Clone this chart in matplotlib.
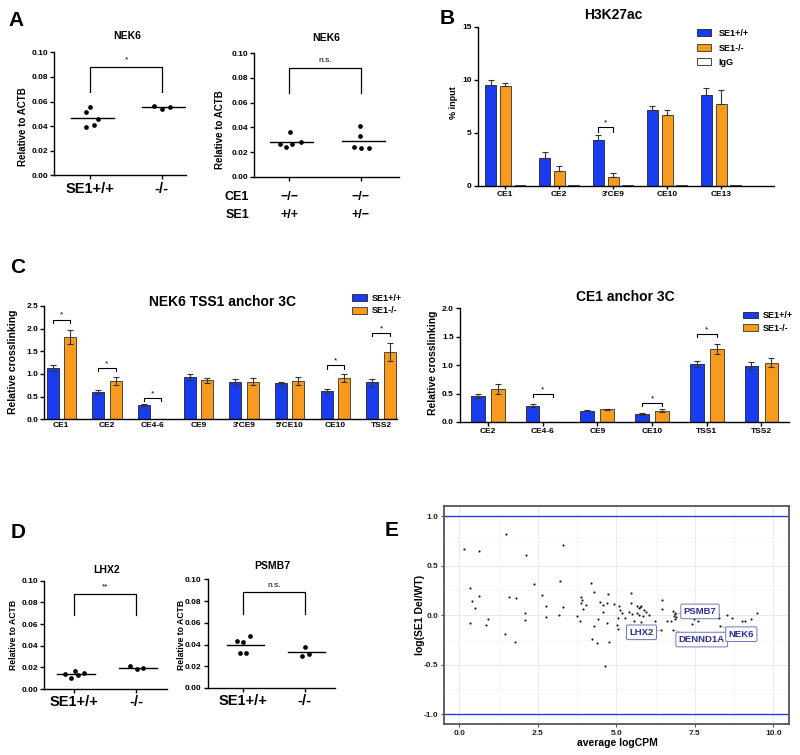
import numpy as np
import matplotlib.pyplot as plt
from matplotlib.transforms import blended_transform_factory

plt.rcParams['font.family'] = ['Liberation Sans', 'DejaVu Sans']
plt.rcParams['font.weight'] = 'bold'
plt.rcParams['axes.linewidth'] = 1.0

BLUE = '#1a3cf0'
ORANGE = '#f79a1e'

# ---- A: NEK6 qPCR ----
a1_groups = ['SE1+/+', '-/-']
a1_wt = [0.0515, 0.0553, 0.0458, 0.0396, 0.0407]
a1_ko = [0.0564, 0.0542, 0.0556]
a2_ce1 = ['\u2212/\u2212', '\u2212/\u2212']
a2_se1 = ['+/+', '+/\u2212']
a2_wt = [0.0262, 0.0241, 0.0359, 0.0265, 0.0278]
a2_het = [0.0411, 0.0327, 0.0241, 0.0230, 0.0230]

# ---- B: H3K27ac ChIP ----
b_sites = ['CE1', 'CE2', "3'CE9", 'CE10', 'CE13']
b_wt = [9.53, 2.64, 4.34, 7.11, 8.55]
b_wt_err = [0.41, 0.54, 0.41, 0.37, 0.66]
b_ko = [9.40, 1.42, 0.85, 6.70, 7.74]
b_ko_err = [0.29, 0.44, 0.31, 0.41, 1.25]
b_igg = [0.05, 0.05, 0.05, 0.05, 0.05]

# ---- C: 3C ----
c1_sites = ['CE1', 'CE2', 'CE4-6', 'CE9', "3'CE9", "5'CE10", 'CE10', 'TSS2']
c1_wt = [1.13, 0.60, 0.31, 0.93, 0.82, 0.79, 0.625, 0.82]
c1_wt_err = [0.06, 0.04, 0.02, 0.06, 0.06, 0.04, 0.04, 0.08]
c1_ko = [1.81, 0.85, 0.0, 0.86, 0.83, 0.84, 0.92, 1.49]
c1_ko_err = [0.15, 0.09, 0.0, 0.06, 0.08, 0.09, 0.09, 0.20]
c1_sig = [0, 1, 2, 6, 7]

c2_sites = ['CE2', 'CE4-6', 'CE9', 'CE10', 'TSS1', 'TSS2']
c2_wt = [0.46, 0.29, 0.20, 0.14, 1.02, 0.98]
c2_wt_err = [0.03, 0.02, 0.01, 0.01, 0.06, 0.07]
c2_ko = [0.58, 0.0, 0.22, 0.20, 1.29, 1.04]
c2_ko_err = [0.08, 0.0, 0.015, 0.025, 0.09, 0.08]
c2_sig = [1, 3, 4]

# ---- D: LHX2 / PSMB7 ----
d1_wt = [0.0135, 0.0166, 0.0105, 0.0126, 0.0148]
d1_ko = [0.0212, 0.0185, 0.0194]
d2_wt = [0.0436, 0.0423, 0.0475, 0.0325, 0.0325]
d2_ko = [0.0377, 0.0294, 0.0310]

# ---- E: MA plot ----
e_x = [0.15, 0.62, 1.48, 2.12, 3.31, 0.34, 0.39, 0.62, 0.51, 0.91, 0.34, 0.86, 1.57, 1.79,
       2.09, 2.09, 1.46, 1.76, 2.38, 2.62, 2.75, 2.77, 3.2, 3.31, 3.17, 3.74, 3.83, 3.87,
       3.9, 3.89, 3.93, 4.02, 4.18, 4.28, 4.22, 4.3, 4.4, 4.39, 4.47, 4.56, 4.59, 4.69,
       4.75, 4.71, 4.77, 4.65, 4.93, 5.07, 5.06, 5.03, 5.06, 5.13, 5.17, 5.28, 5.4, 5.48,
       5.48, 5.5, 5.55, 5.67, 5.66, 5.71, 5.71, 5.75, 5.79, 5.79, 5.84, 5.87, 5.93, 6.03,
       6.23, 6.47, 6.47, 6.61, 6.73, 6.79, 6.86, 6.84, 6.9, 6.86, 7.42, 7.46, 7.61, 8.23,
       8.28, 8.54, 8.7, 9.01, 9.1, 9.3, 9.48]
e_y = [0.67, 0.65, 0.82, 0.61, 0.71, 0.28, 0.145, 0.19, 0.077, -0.037, -0.074, -0.098, 0.18,
       0.17, 0.024, -0.047, -0.195, -0.27, 0.32, 0.2, 0.098, -0.017, 0.347, 0.084, 0.003,
       -0.007, -0.054, 0.18, 0.155, 0.12, 0.067, 0.104, 0.33, 0.232, -0.236, -0.114, -0.034,
       -0.286, 0.131, 0.03, 0.104, 0.121, 0.215, -0.081, -0.266, -0.515, 0.114, 0.091, -0.024,
       -0.101, -0.135, 0.05, 0.02, -0.024, 0.03, 0.222, 0.128, 0.017, -0.061, 0.094, 0.027,
       0.071, 0.0, 0.08, 0.09, -0.067, -0.007, 0.054, 0.03, 0.0, -0.057, 0.155, 0.067, -0.061,
       -0.054, 0.044, 0.02, -0.013, -0.017, -0.034, -0.091, -0.04, -0.061, 0.017, -0.027, 0.0,
       -0.03, -0.061, -0.061, -0.034, 0.027]
genes = ['LHX2', 'PSMB7', 'DENND1A', 'NEK6']
gene_x = [6.43, 6.88, 6.81, 8.31]
gene_y = [-0.152, 0.017, -0.148, -0.108]

W, H = 800, 755
fig = plt.figure(figsize=(W / 100, H / 100), dpi=100)


def box(l, t, r, b):
    return fig.add_axes([l / W, 1 - b / H, (r - l) / W, (b - t) / H])


def ftext(x, y, s, **kw):
    fig.text(x / W, 1 - y / H, s, ha=kw.pop('ha', 'center'), va=kw.pop('va', 'center'), **kw)


def prism(ax):
    for s in ['top', 'right']:
        ax.spines[s].set_visible(False)
    ax.tick_params(length=3, width=1, labelsize=6, pad=1.5)


def dots(ax, groups, jitters, star, xlim, ylab_x, ylab_y, ylab_size=7):
    for i, (vals, jit) in enumerate(zip(groups, jitters)):
        ax.plot(i + np.array(jit), vals, 'o', color='k', ms=3.4, mec='none')
        m = np.mean(vals)
        ax.plot([i - 0.27, i + 0.33], [m, m], color='k', lw=1)
    ax.plot([0, 0, 1, 1], [0.068, 0.088, 0.088, 0.068], color='k', lw=0.9)
    ax.text(0.5, 0.091, star, ha='center', va='bottom', fontsize=6, fontweight='normal')
    ax.set_ylim(0, 0.1)
    ax.set_xlim(*xlim)
    ax.set_yticks(np.arange(0, 0.101, 0.02))
    ax.set_yticklabels(['%.2f' % v for v in np.arange(0, 0.101, 0.02)])
    ax.set_xticks([0, 1])
    prism(ax)
    ftext(ylab_x, ylab_y, 'Relative to ACTB', rotation=90, fontsize=ylab_size)


# ---------- A ----------
ax = box(54, 52.3, 186, 175.3)
dots(ax, [a1_wt, a1_ko], [[-0.066, -0.005, 0.1, -0.061, 0.047], [-0.108, 0, 0.113]],
     '*', (-0.51, 1.34), 23, 127)
ax.set_xticklabels(a1_groups, fontsize=10.5)
ftext(127, 36, 'NEK6', fontsize=7.5)

ax = box(254, 53.3, 399, 176.7)
dots(ax, [a2_wt, a2_het], [[-0.126, -0.047, 0.005, 0.042, 0.163], [-0.01, -0.01, -0.098, 0, 0.107]],
     'n.s.', (-0.49, 1.53), 220, 130)
ax.set_xticklabels([])
tr = blended_transform_factory(ax.transData, ax.transAxes)
for i in range(2):
    ax.text(i, -0.165, a2_ce1[i], transform=tr, ha='center', va='center', fontsize=9)
    ax.text(i, -0.31, a2_se1[i], transform=tr, ha='center', va='center', fontsize=9)
ax.text(-0.117, -0.165, 'CE1', transform=ax.transAxes, ha='center', va='center', fontsize=9)
ax.text(-0.117, -0.31, 'SE1', transform=ax.transAxes, ha='center', va='center', fontsize=9)
ftext(326, 38, 'NEK6', fontsize=7.5)

# ---------- B ----------
ax = box(477.7, 26.7, 774, 185.7)
xb = np.arange(len(b_sites))
ek = dict(lw=0.8, capthick=0.8, ecolor='#333333')
ax.bar(xb - 0.272, b_wt, 0.2, color=BLUE, edgecolor='#222222', lw=0.6,
       yerr=[np.zeros(5), b_wt_err], capsize=2.2, error_kw=ek, label='SE1+/+')
ax.bar(xb, b_ko, 0.2, color=ORANGE, edgecolor='#333333', lw=0.6,
       yerr=[np.zeros(5), b_ko_err], capsize=2.2, error_kw=ek, label='SE1-/-')
ax.bar(xb + 0.272, b_igg, 0.2, color='white', edgecolor='#222222', lw=0.6, label='IgG')
ax.plot([2 - 0.272, 2 - 0.272, 2, 2], [5.1, 5.5, 5.5, 5.1], color='k', lw=0.8)
ax.text(2 - 0.136, 5.6, '*', ha='center', va='bottom', fontsize=6, fontweight='normal')
ax.set_ylim(0, 15)
ax.set_xlim(-0.51, 4.98)
ax.set_yticks([0, 5, 10, 15])
ax.set_xticks(xb)
ax.set_xticklabels(b_sites, fontsize=6.7)
prism(ax)
ax.tick_params(axis='x', length=2.5)
ax.legend(loc='upper left', bbox_to_anchor=(0.74, 0.985), frameon=False, fontsize=6.5,
          borderpad=0, borderaxespad=0, handlelength=1.5, handleheight=0.8,
          handletextpad=0.9, labelspacing=0.6)
ftext(453, 103, '% input', rotation=90, fontsize=6.5)
ftext(613, 15, 'H3K27ac', fontsize=10)


def bars3c(ax, sites, wt, wt_err, ko, ko_err, sig, sig_y, off, width, ylim):
    x = np.arange(len(sites))
    ek = dict(lw=0.8, capthick=0.8, ecolor='#333333')
    ax.bar(x - off, wt, width, color=BLUE, edgecolor='#222222', lw=0.6,
           yerr=wt_err, capsize=2.2, error_kw=ek, label='SE1+/+')
    ax.bar(x + off, ko, width, color=ORANGE, edgecolor='#333333', lw=0.6,
           yerr=ko_err, capsize=2.2, error_kw=ek, label='SE1-/-')
    tick = ylim * 0.028
    for i, y in zip(sig, sig_y):
        ax.plot([i - off, i - off, i + off, i + off], [y - tick, y, y, y - tick], color='k', lw=0.8)
        ax.text(i, y + tick * 0.3, '*', ha='center', va='bottom', fontsize=6, fontweight='normal')
    ax.set_ylim(0, ylim)
    ax.set_yticks(np.arange(0, ylim + 0.01, 0.5))
    ax.set_yticklabels(['%.1f' % v for v in np.arange(0, ylim + 0.01, 0.5)])
    ax.set_xticks(x)
    ax.set_xticklabels(sites, fontsize=6.7)
    prism(ax)


# ---------- C ----------
ax = box(44.3, 306, 396.7, 419.3)
bars3c(ax, c1_sites, c1_wt, c1_wt_err, c1_ko, c1_ko_err, c1_sig,
       [2.2, 1.125, 0.47, 1.19, 1.9], 0.19, 0.263, 2.5)
ax.set_xlim(-0.37, 7.34)
ax.tick_params(axis='x', length=0, pad=2)
ax.legend(loc='upper left', bbox_to_anchor=(0.873, 1.11), frameon=False, fontsize=6.5,
          borderpad=0, borderaxespad=0, handlelength=1.65, handleheight=0.8,
          handletextpad=0.6, labelspacing=0.42)
ftext(13, 362, 'Relative crosslinking', rotation=90, fontsize=7.5)
ftext(222, 302, 'NEK6 TSS1 anchor 3C', fontsize=10)

ax = box(460, 308.3, 789.3, 422)
bars3c(ax, c2_sites, c2_wt, c2_wt_err, c2_ko, c2_ko_err, c2_sig,
       [0.49, 0.33, 1.55], 0.183, 0.25, 2.0)
ax.set_xlim(-0.51, 5.51)
ax.legend(loc='upper left', bbox_to_anchor=(0.859, 0.975), frameon=False, fontsize=6.5,
          borderpad=0, borderaxespad=0, handlelength=1.65, handleheight=0.8,
          handletextpad=0.6, labelspacing=0.42)
ftext(433, 363, 'Relative crosslinking', rotation=90, fontsize=7.5)
ftext(625, 297, 'CE1 anchor 3C', fontsize=10)

# ---------- D ----------
ax = box(44.3, 580.7, 166.7, 689)
dots(ax, [d1_wt, d1_ko], [[-0.14, 0.01, -0.043, 0.065, 0.167], [-0.097, 0.005, 0.108]],
     '**', (-0.48, 1.49), 14, 635, ylab_size=6.2)
ax.set_xticklabels(a1_groups, fontsize=10.5)
ftext(107, 570, 'LHX2', fontsize=7.5)

ax = box(207.7, 579.3, 335, 688)
dots(ax, [d2_wt, d2_ko], [[-0.103, 0, 0.108, -0.059, 0.049], [0.01, -0.05, 0.06]],
     'n.s.', (-0.577, 1.49), 181, 635, ylab_size=6.2)
ax.set_xticklabels(a1_groups, fontsize=10.5)
ftext(272, 566, 'PSMB7', fontsize=7.5)

# ---------- E ----------
ax = box(444, 506, 789, 724)
ax.set_xlim(-0.49, 10.5)
ax.set_ylim(-1.1, 1.104)
ax.set_xticks(np.arange(0, 10.1, 2.5))
ax.set_xticks(np.arange(1.25, 10, 2.5), minor=True)
ax.set_yticks(np.arange(-1, 1.01, 0.5))
ax.set_yticks(np.arange(-0.75, 1, 0.5), minor=True)
ax.set_xticklabels(['%.1f' % v for v in np.arange(0, 10.1, 2.5)])
ax.set_yticklabels(['%.1f' % v for v in np.arange(-1, 1.01, 0.5)])
ax.grid(True, which='major', color='#e6e6e6', lw=0.6)
ax.grid(True, which='minor', color='#f2f2f2', lw=0.4)
ax.set_axisbelow(True)
for s in ax.spines.values():
    s.set_color('#555555')
    s.set_linewidth(1.3)
ax.tick_params(which='major', length=2.5, color='#555555', labelsize=6, labelcolor='#222222', pad=1.5)
ax.tick_params(which='minor', length=0)
ax.axhline(1, color='#2a3ae0', lw=1)
ax.axhline(-1, color='#2a3ae0', lw=1)
ax.scatter(e_x + gene_x, e_y + gene_y, s=2.5, color='#222222', lw=0, zorder=3)
offs = [(-5.5, -1.5), (6, 1.5), (4, -7), (6, -6)]
for g, gx, gy, (dx, dy) in zip(genes, gene_x, gene_y, offs):
    ax.annotate(g, (gx, gy), xytext=(dx, dy), textcoords='offset points',
                ha='left' if dx > 0 else 'right', va='center', fontsize=6.8, color='#2b2f8f',
                bbox=dict(boxstyle='round,pad=0.3,rounding_size=0.15', fc='white', ec='#5560b0', lw=0.6),
                arrowprops=dict(arrowstyle='-', color='#888888', lw=0.4, shrinkA=0, shrinkB=1))
ftext(420, 615, 'log(SE1 Del/WT)', rotation=90, fontsize=7.5)
ftext(617, 743, 'average logCPM', fontsize=7.5)

# panel letters
for L, x, y in [('A', 16, 21), ('B', 447, 18), ('C', 18, 268), ('D', 18, 532), ('E', 392, 530)]:
    ftext(x, y, L, fontsize=15)

fig.savefig('out.png', dpi=100)
